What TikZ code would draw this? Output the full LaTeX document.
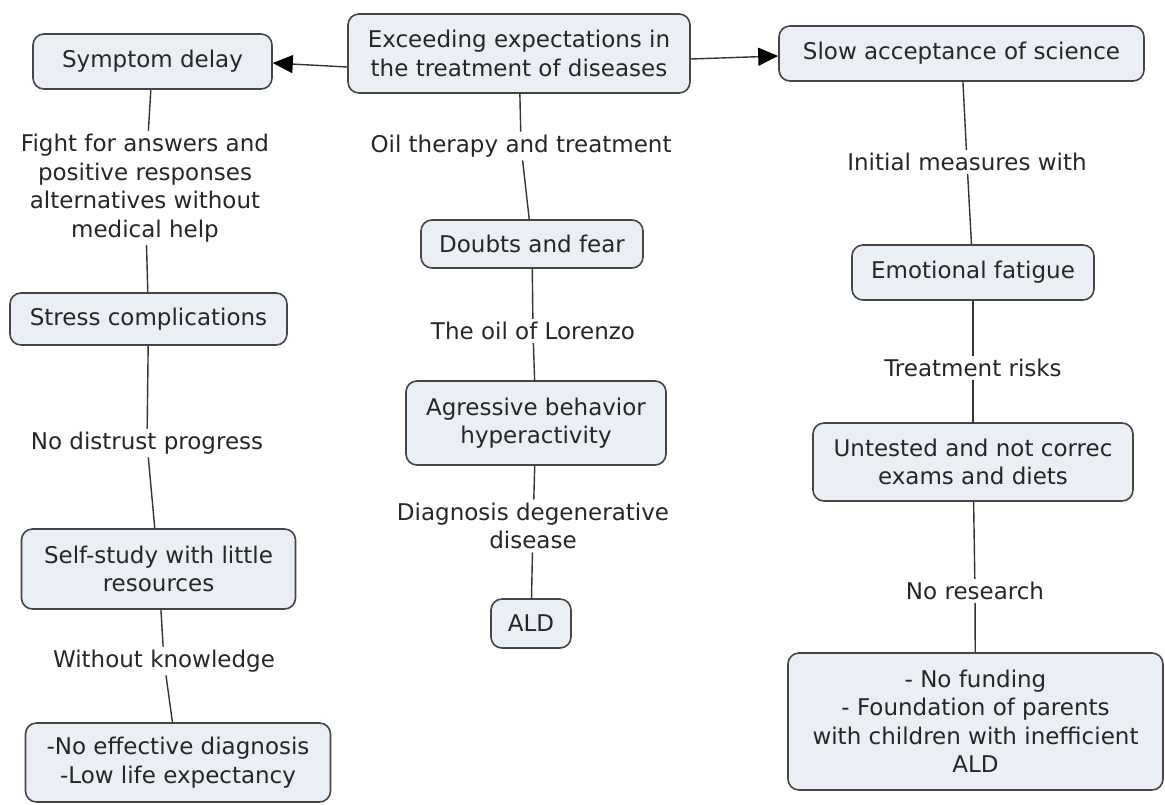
\documentclass[tikz,border=0pt]{standalone}
\usepackage{fontspec}
\setmainfont{DejaVu Sans}
\usetikzlibrary{arrows.meta}
\definecolor{boxfill}{HTML}{E9EFF4}
\definecolor{boxline}{HTML}{454545}
\definecolor{linkline}{HTML}{333333}
\definecolor{txt}{HTML}{262626}
\begin{document}
\begin{tikzpicture}[x=1pt,y=-1pt,
  font=\fontsize{23}{28.5}\selectfont,
  concept/.style={draw=boxline, line width=1.6pt, fill=boxfill,
    rounded corners=11pt, align=center, text=txt, inner sep=0pt},
  link/.style={align=center, text=txt, inner sep=3pt},
  conn/.style={draw=linkline, line width=1.4pt},
  arr/.style={conn, -{Triangle[length=20pt,width=18pt,color=black]}}]
\useasboundingbox (0,0) rectangle (1165,804);

% concepts
\node[concept, minimum width=342, minimum height=79] (root) at (519,53.5)
  {Exceeding expectations in\\the treatment of diseases};
\node[concept, minimum width=239, minimum height=55] (sym) at (152.5,61.5) {Symptom delay};
\node[concept, minimum width=365, minimum height=55] (slow) at (961.5,53.5) {Slow acceptance of science};

\node[concept, minimum width=222, minimum height=48] (doubt) at (532,244) {Doubts and fear};
\node[concept, minimum width=260, minimum height=84] (aggr) at (536,423) {Agressive behavior\\hyperactivity};
\node[concept, minimum width=80, minimum height=49] (ald) at (531,623.5) {ALD};

\node[concept, minimum width=277, minimum height=52] (stress) at (148.5,319) {Stress complications};
\node[concept, minimum width=274, minimum height=80] (self) at (158.5,569) {Self-study with little\\resources};
\node[concept, minimum width=305, minimum height=79] (nodiag) at (178,762.5) {-No effective diagnosis\\-Low life expectancy};

\node[concept, minimum width=242, minimum height=55] (emo) at (973,272.5) {Emotional fatigue};
\node[concept, minimum width=320, minimum height=78] (untest) at (973,462) {Untested and not correc\\exams and diets};
\node[concept, minimum width=375, minimum height=137] (fund) at (975.5,721.5)
  {- No funding\\- Foundation of parents\\with children with inefficient\\ALD};

% linking phrases
\node[link] (l1) at (145,188) {Fight for answers and\\positive responses\\alternatives without\\medical help};
\node[link] (l2) at (147,443) {No distrust progress};
\node[link] (l3) at (164,661) {Without knowledge};
\node[link] (m1) at (521,146) {Oil therapy and treatment};
\node[link] (m2) at (533,331) {The oil of Lorenzo};
\node[link] (m3) at (533,526) {Diagnosis degenerative\\disease};
\node[link] (r1) at (967,162) {Initial measures with};
\node[link] (r2) at (973,368) {Treatment risks};
\node[link] (r3) at (975,591) {No research};

% arrows from the root
\draw[arr] (root.west |- 0,67) -- (sym.east |- 0,63);
\draw[arr] (root.east |- 0,59) -- (slow.west |- 0,56);

% chains
\draw[conn] (sym) -- (l1) -- (stress);
\draw[conn] (stress) -- (l2) -- (self);
\draw[conn] (self) -- (l3) -- (nodiag);
\draw[conn] (root) -- (m1) -- (doubt);
\draw[conn] (doubt) -- (m2) -- (aggr);
\draw[conn] (aggr) -- (m3) -- (ald);
\draw[conn] (slow) -- (r1) -- (emo);
\draw[conn] (emo) -- (r2) -- (untest);
\draw[conn] (untest) -- (r3) -- (fund);
\end{tikzpicture}
\end{document}
